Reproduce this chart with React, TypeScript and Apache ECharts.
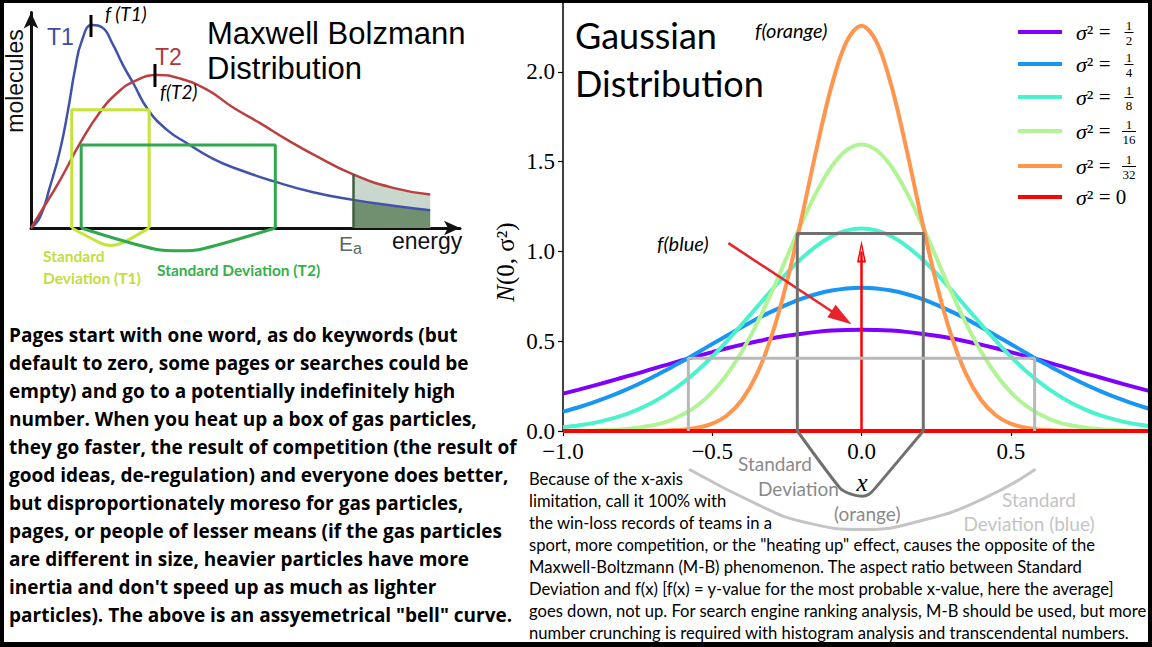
import React, { useEffect, useRef } from "react";
import * as echarts from "echarts";

// ---------- Maxwell–Boltzmann panel (energy along x, molecule count along y) ----------
const mbEnergyT1 = [0, 0.25, 0.52, 0.8, 1.02, 1.21, 1.4, 1.68, 1.95, 2.23, 2.53, 2.81, 3.22, 3.74, 4.29, 5.01, 5.75, 6.66, 7.76, 8.86, 9.96, 10.98];
const mbCountT1 = [0, 0.49, 1.84, 3.5, 5.3, 7.1, 8.4, 9.1, 9.0, 8.3, 7.3, 6.5, 5.3, 4.4, 3.8, 3.1, 2.6, 2.1, 1.6, 1.26, 1.0, 0.8];
const mbEnergyT2 = [0, 0.25, 0.8, 1.35, 1.9, 2.37, 2.81, 3.47, 4.1, 4.84, 5.56, 6.3, 7.05, 7.76, 8.86, 9.96, 10.98];
const mbCountT2 = [0, 0.67, 2.15, 3.8, 5.2, 6.05, 6.55, 6.86, 6.7, 6.2, 5.4, 4.7, 3.95, 3.3, 2.4, 1.8, 1.5];
const activationEnergy = 8.86;
const activationCount = 2.4;

const t1BoxEnergy = [1.12, 1.12, 3.25, 3.25];
const t1BoxCount = [0, 5.3, 5.3, 0];
const t1BraceEnergy = [1.12, 1.95, 2.2, 2.5, 3.25];
const t1BraceCount = [0, -0.7, -0.78, -0.68, 0];
const t2BoxEnergy = [1.38, 1.38, 6.72, 6.72];
const t2BoxCount = [0, 3.72, 3.72, 0];
const t2BraceEnergy = [1.38, 3.46, 4.1, 4.65, 6.72];
const t2BraceCount = [0, -0.96, -1.02, -0.96, 0];
const t1PeakEnergy = 1.65;
const t1PeakMarker = [8.56, 9.55];
const t2PeakEnergy = 3.41;
const t2PeakMarker = [6.32, 7.35];

// ---------- Gaussian panel ----------
const gaussX = [-1, -0.95, -0.9, -0.85, -0.8, -0.75, -0.7, -0.65, -0.6, -0.55, -0.5, -0.45, -0.4, -0.35, -0.3, -0.25, -0.2, -0.15, -0.1, -0.05, 0, 0.05, 0.1, 0.15, 0.2, 0.25, 0.3, 0.35, 0.4, 0.45, 0.5, 0.55, 0.6, 0.65, 0.7, 0.75, 0.8, 0.85, 0.9, 0.95, 1];
const densityHalf = [0.208, 0.229, 0.251, 0.274, 0.298, 0.321, 0.346, 0.37, 0.394, 0.417, 0.439, 0.461, 0.481, 0.499, 0.516, 0.53, 0.542, 0.552, 0.559, 0.563, 0.564, 0.563, 0.559, 0.552, 0.542, 0.53, 0.516, 0.499, 0.481, 0.461, 0.439, 0.417, 0.394, 0.37, 0.346, 0.321, 0.298, 0.274, 0.251, 0.229, 0.208];
const densityQuarter = [0.108, 0.131, 0.158, 0.188, 0.222, 0.259, 0.299, 0.343, 0.388, 0.436, 0.484, 0.532, 0.579, 0.625, 0.666, 0.704, 0.737, 0.763, 0.782, 0.794, 0.798, 0.794, 0.782, 0.763, 0.737, 0.704, 0.666, 0.625, 0.579, 0.532, 0.484, 0.436, 0.388, 0.343, 0.299, 0.259, 0.222, 0.188, 0.158, 0.131, 0.108];
const densityEighth = [0.021, 0.031, 0.044, 0.063, 0.087, 0.119, 0.159, 0.208, 0.267, 0.336, 0.415, 0.502, 0.595, 0.691, 0.787, 0.879, 0.962, 1.031, 1.084, 1.117, 1.128, 1.117, 1.084, 1.031, 0.962, 0.879, 0.787, 0.691, 0.595, 0.502, 0.415, 0.336, 0.267, 0.208, 0.159, 0.119, 0.087, 0.063, 0.044, 0.031, 0.021];
const densitySixteenth = [0.001, 0.001, 0.002, 0.005, 0.01, 0.018, 0.032, 0.054, 0.09, 0.142, 0.216, 0.316, 0.444, 0.599, 0.777, 0.968, 1.159, 1.333, 1.473, 1.564, 1.596, 1.564, 1.473, 1.333, 1.159, 0.968, 0.777, 0.599, 0.444, 0.316, 0.216, 0.142, 0.09, 0.054, 0.032, 0.018, 0.01, 0.005, 0.002, 0.001, 0.001];
const densityThirtySecond = [0, 0, 0, 0, 0, 0, 0.001, 0.003, 0.007, 0.018, 0.041, 0.088, 0.174, 0.318, 0.535, 0.83, 1.19, 1.575, 1.923, 2.168, 2.257, 2.168, 1.923, 1.575, 1.19, 0.83, 0.535, 0.318, 0.174, 0.088, 0.041, 0.018, 0.007, 0.003, 0.001, 0, 0, 0, 0, 0, 0];
const densities = [densityHalf, densityQuarter, densityEighth, densitySixteenth, densityThirtySecond];
const varianceDenominators = ["2", "4", "8", "16", "32"];
const varianceColors = ["#8000ff", "#1996f3", "#4cf2ce", "#b2f396", "#ff964f"];
const zeroLineX = [-1, 1];
const zeroLineY = [0, 0];
const deltaSpikeHeight = 1.0;

const orangeSdX = [-0.215, -0.215, 0.207, 0.207];
const orangeSdY = [0, 1.1, 1.1, 0];
const orangeBraceX = [-0.215, -0.072, -0.035, 0.002, 0.025, 0.046, 0.207];
const orangeBraceY = [0, -0.318, -0.352, -0.363, -0.352, -0.318, 0];
const blueSdX = [-0.58, -0.58, 0.58, 0.58];
const blueSdY = [0, 0.405, 0.405, 0];
const blueBraceX = [-0.578, -0.332, -0.197, 0.003, 0.208, 0.41, 0.583];
const blueBraceY = [-0.213, -0.422, -0.505, -0.548, -0.496, -0.375, -0.213];
const fBlueArrowFrom = [-0.446, 1.046];
const fBlueArrowTo = [-0.067, 0.631];

const legendRowY = [32, 64, 97, 131, 166, 197];

const leftParagraph = [
  "Pages start with one word, as do keywords (but",
  "default to zero, some pages or searches could be",
  "empty) and go to a potentially indefinitely high",
  "number. When you heat up a box of gas particles,",
  "they go faster, the result of competition (the result of",
  "good ideas, de-regulation) and everyone does better,",
  "but disproportionately moreso for gas particles,",
  "pages, or people of lesser means (if the gas particles",
  "are different in size, heavier particles have more",
  "inertia and don't speed up as much as lighter",
  "particles). The above is an assyemetrical \"bell\" curve.",
];
const rightParagraph = [
  "Because of the x-axis",
  "limitation, call it 100% with",
  "the win-loss records of teams in a",
  "sport, more competition, or the \"heating up\" effect, causes the opposite of the",
  "Maxwell-Boltzmann (M-B) phenomenon. The aspect ratio between Standard",
  "Deviation and f(x) [f(x) = y-value for the most probable x-value, here the average]",
  "goes down, not up. For search engine ranking analysis, M-B should be used, but more",
  "number crunching is required with histogram analysis and transcendental numbers.",
];

const pairs = (xs: number[], ys: number[]) => xs.map((x, i) => [x, ys[i]]);

const HOLLOW_ARROW = "path://M5,0 L10,22 L0,22 Z M5,6 L2.2,20 L7.8,20 Z";
const SANS = "Lato";
const SERIF = "Liberation Serif";

function shape(name: string, grid: number, data: number[][], color: string, width: number, smooth: boolean | number = false) {
  return {
    type: "line",
    name,
    xAxisIndex: grid,
    yAxisIndex: grid,
    data,
    smooth,
    clip: false,
    showSymbol: false,
    symbol: "none",
    silent: true,
    z: 5,
    lineStyle: { color, width },
    itemStyle: { color },
  };
}

function text(x: number, y: number, str: string, style: any, extra: any = {}) {
  return {
    type: "text",
    x,
    y,
    z: 50,
    silent: true,
    style: { text: str, fill: "#000", verticalAlign: "middle", align: "left", ...style },
    ...extra,
  };
}

export default function App() {
  const ref = useRef<HTMLDivElement>(null);

  useEffect(() => {
    if (!ref.current) return;
    const chart = echarts.init(ref.current, undefined, { renderer: "svg" });

    const gaussNames = varianceDenominators.map((d) => `σ² = 1/${d}`);
    const zeroName = "σ² = 0";

    const series: any[] = [];

    // Maxwell–Boltzmann: shaded tail beyond the activation energy
    series.push({
      type: "line", name: "T2 tail", xAxisIndex: 0, yAxisIndex: 0, smooth: true, showSymbol: false, symbol: "none", silent: true,
      data: pairs(mbEnergyT2, mbCountT2).filter((p) => p[0] >= activationEnergy),
      lineStyle: { width: 0 }, areaStyle: { color: "#c9d7cd", opacity: 1 },
    });
    series.push({
      type: "line", name: "T1 tail", xAxisIndex: 0, yAxisIndex: 0, smooth: true, showSymbol: false, symbol: "none", silent: true,
      data: pairs(mbEnergyT1, mbCountT1).filter((p) => p[0] >= activationEnergy),
      lineStyle: { width: 0 }, areaStyle: { color: "#71906f", opacity: 1 },
    });
    series.push({
      type: "line", name: "T1", xAxisIndex: 0, yAxisIndex: 0, smooth: true, showSymbol: false, symbol: "none", silent: true,
      data: pairs(mbEnergyT1, mbCountT1), lineStyle: { color: "#4152ad", width: 2.5 }, itemStyle: { color: "#4152ad" },
    });
    series.push({
      type: "line", name: "T2", xAxisIndex: 0, yAxisIndex: 0, smooth: true, showSymbol: false, symbol: "none", silent: true,
      data: pairs(mbEnergyT2, mbCountT2), lineStyle: { color: "#b9403f", width: 2.5 }, itemStyle: { color: "#b9403f" },
      markLine: {
        silent: true, symbol: ["none", "none"], label: { show: false },
        lineStyle: { color: "#405f40", width: 2.5, type: "solid" },
        data: [[{ coord: [activationEnergy, 0] }, { coord: [activationEnergy, activationCount] }]],
      },
    });
    series.push(shape("T1 spread", 0, pairs(t1BoxEnergy, t1BoxCount), "#c5e43a", 3));
    series.push(shape("T1 spread brace", 0, pairs(t1BraceEnergy, t1BraceCount), "#c5e43a", 3, 0.3));
    series.push(shape("T2 spread", 0, pairs(t2BoxEnergy, t2BoxCount), "#2fa84e", 3));
    series.push(shape("T2 spread brace", 0, pairs(t2BraceEnergy, t2BraceCount), "#2fa84e", 3, 0.3));
    series.push(shape("T1 peak", 0, [[t1PeakEnergy, t1PeakMarker[0]], [t1PeakEnergy, t1PeakMarker[1]]], "#000", 3));
    series.push(shape("T2 peak", 0, [[t2PeakEnergy, t2PeakMarker[0]], [t2PeakEnergy, t2PeakMarker[1]]], "#000", 3));

    // Gaussian family
    densities.forEach((d, i) => {
      series.push({
        type: "line", name: gaussNames[i], xAxisIndex: 1, yAxisIndex: 1, smooth: 0.35, showSymbol: false, symbol: "none", silent: true,
        data: pairs(gaussX, d), lineStyle: { color: varianceColors[i], width: 4 }, itemStyle: { color: varianceColors[i] }, z: 2,
      });
    });
    series.push({
      type: "line", name: zeroName, xAxisIndex: 1, yAxisIndex: 1, showSymbol: false, symbol: "none", silent: true, z: 3,
      data: pairs(zeroLineX, zeroLineY), lineStyle: { color: "#ff0000", width: 4 }, itemStyle: { color: "#ff0000" },
      markLine: {
        silent: true, label: { show: false }, symbol: ["none", "none"],
        lineStyle: { color: "#ff0000", width: 2.5, type: "solid" },
        data: [
          [{ coord: [0, 0], symbol: "none" }, { coord: [0, deltaSpikeHeight], symbol: HOLLOW_ARROW, symbolSize: [9, 22] }],
          [
            { coord: fBlueArrowFrom, symbol: "none", lineStyle: { color: "#e8232b", width: 2.5 } },
            { coord: fBlueArrowTo, symbol: "triangle", symbolSize: [15, 24] },
          ],
        ],
      },
    });
    series.push(shape("orange spread", 1, pairs(orangeSdX, orangeSdY), "#707070", 3));
    series.push(shape("orange spread brace", 1, pairs(orangeBraceX, orangeBraceY), "#707070", 3, 0.2));
    series.push(shape("blue spread", 1, pairs(blueSdX, blueSdY), "#b8b8b8", 3));
    series.push(shape("blue spread brace", 1, pairs(blueBraceX, blueBraceY), "#c4c4c4", 3, true));

    const legendNames = [...gaussNames, zeroName];
    const legends = legendNames.map((name, i) => ({
      data: [name],
      left: 1018,
      top: legendRowY[i] - 11,
      padding: 0,
      icon: "rect",
      itemWidth: 44,
      itemHeight: 4,
      selectedMode: false,
      formatter: () => (i < 5 ? "{p|}{s|σ}{q|²}{e| =}" : "{p|}{s|σ}{q|²}{e| = 0}"),
      textStyle: {
        fontFamily: SERIF, fontSize: 21, color: "#000", lineHeight: 22,
        rich: {
          p: { width: 9 },
          s: { fontFamily: SERIF, fontSize: 22, fontStyle: "italic", lineHeight: 22 },
          q: { fontFamily: SERIF, fontSize: 22, lineHeight: 22 },
          e: { fontFamily: SERIF, fontSize: 21, lineHeight: 22 },
        },
      },
    }));

    const graphic: any[] = [];
    // legend fractions
    varianceDenominators.forEach((den, i) => {
      const cy = legendRowY[i];
      const cx = 1129;
      const half = den.length > 1 ? 7 : 4.5;
      graphic.push(text(cx, cy - 7, "1", { fontFamily: SERIF, fontSize: 13, align: "center" }));
      graphic.push({ type: "line", z: 50, silent: true, shape: { x1: cx - half, y1: cy + 0.5, x2: cx + half, y2: cy + 0.5 }, style: { stroke: "#000", lineWidth: 1 } });
      graphic.push(text(cx, cy + 8, den, { fontFamily: SERIF, fontSize: 13, align: "center" }));
    });

    // Maxwell–Boltzmann labels
    graphic.push(text(15, 81, "molecules", { fontFamily: "Liberation Sans", fontSize: 23, align: "center", fill: "#111" }, { rotation: Math.PI / 2 }));
    graphic.push(text(392, 241, "energy", { fontFamily: "Liberation Sans", fontSize: 23, fill: "#111" }));
    graphic.push(text(339, 243, "E", { fontFamily: "Liberation Sans", fontSize: 21, fill: "#5b6b5b" }));
    graphic.push(text(353, 248, "a", { fontFamily: "Liberation Sans", fontSize: 16, fill: "#5b6b5b" }));
    graphic.push(text(47, 37, "T1", { fontFamily: "Liberation Sans", fontSize: 23, fill: "#3d4da0" }));
    graphic.push(text(155, 57, "T2", { fontFamily: "Liberation Sans", fontSize: 23, fill: "#b0383c" }));
    graphic.push(text(207, 50.5, "Maxwell Bolzmann\nDistribution", { fontFamily: "Liberation Sans", fontSize: 31, lineHeight: 35 }));
    graphic.push(text(105, 13, "f (T1)", { fontFamily: SANS, fontStyle: "italic", fontSize: 19 }));
    graphic.push(text(160, 91, "f(T2)", { fontFamily: SANS, fontStyle: "italic", fontSize: 19 }));
    graphic.push(text(43, 267, "Standard\nDeviation (T1)", { fontFamily: SANS, fontWeight: "bold", fontSize: 15.5, lineHeight: 22, fill: "#c2de3c" }));
    graphic.push(text(157, 270, "Standard Deviation (T2)", { fontFamily: SANS, fontWeight: "bold", fontSize: 15.5, fill: "#34b04c" }));

    // Gaussian labels
    graphic.push(text(575, 59, "Gaussian\nDistribution", { fontFamily: SANS, fontSize: 36, lineHeight: 48 }));
    graphic.push(text(755, 30, "f(orange)", { fontFamily: SANS, fontStyle: "italic", fontSize: 20 }));
    graphic.push(text(657, 243, "f(blue)", { fontFamily: SANS, fontStyle: "italic", fontSize: 20 }));
    graphic.push(text(505, 262, "{n|N}(0, σ²)", {
      fontFamily: SERIF, fontSize: 25, align: "center",
      rich: { n: { fontFamily: SERIF, fontSize: 25, fontStyle: "italic" } },
    }, { rotation: Math.PI / 2 }));
    graphic.push(text(862, 482, "x", { fontFamily: SERIF, fontStyle: "italic", fontSize: 25, align: "center" }));
    graphic.push(text(738, 463, "Standard", { fontFamily: SANS, fontSize: 19, fill: "#8a8a8a" }));
    graphic.push(text(758, 488, "Deviation", { fontFamily: SANS, fontSize: 19, fill: "#8a8a8a" }));
    graphic.push(text(834, 513, "(orange)", { fontFamily: SANS, fontSize: 19, fill: "#8a8a8a" }));
    graphic.push(text(1039, 499, "Standard", { fontFamily: SANS, fontSize: 19, fill: "#c4c4c4", align: "center" }));
    graphic.push(text(1029, 523, "Deviation (blue)", { fontFamily: SANS, fontSize: 19, fill: "#c4c4c4", align: "center" }));

    // paragraphs
    graphic.push(text(9, 335 + 14 * (leftParagraph.length - 1), leftParagraph.join("\n"), { fontFamily: "Open Sans", fontWeight: "bold", fontSize: 19, lineHeight: 28 }));
    graphic.push(text(529, 479 + 11 * (rightParagraph.length - 1), rightParagraph.join("\n"), { fontFamily: SANS, fontSize: 16.6, lineHeight: 22 }));

    // black frame
    [[0, 0, 1162, 3], [0, 0, 4, 647], [0, 642, 1162, 5], [1148, 0, 14, 647]].forEach(([x, y, w, h]) => {
      graphic.push({ type: "rect", z: 100, silent: true, shape: { x, y, width: w, height: h }, style: { fill: "#000" } });
    });

    const hidden = { show: false };
    chart.setOption({
      animation: false,
      backgroundColor: "#fff",
      grid: [
        { left: 31, top: 12.5, width: 429, height: 215.5, outerBoundsMode: "none", containLabel: false },
        { left: 563, top: 0, width: 597, height: 431, outerBoundsMode: "none", containLabel: false },
      ],
      xAxis: [
        {
          gridIndex: 0, type: "value", min: 0, max: 11.8,
          axisLine: { show: true, symbol: ["none", "arrow"], symbolSize: [11, 16], lineStyle: { color: "#111", width: 3 } },
          axisTick: hidden, axisLabel: hidden, splitLine: hidden,
        },
        {
          gridIndex: 1, type: "value", min: -1, max: 1, interval: 0.5,
          axisLine: { show: true, onZero: false, lineStyle: { color: "#000", width: 1.5 } },
          axisTick: { show: true, length: 5, lineStyle: { color: "#000", width: 1.2 } },
          axisLabel: {
            show: true, margin: 9, color: "#000", fontFamily: SERIF, fontSize: 23,
            formatter: (v: number) => (v < 0 ? "−" : "") + Math.abs(v).toFixed(1),
          },
          splitLine: hidden,
        },
      ],
      yAxis: [
        {
          gridIndex: 0, type: "value", min: 0, max: 9.66,
          axisLine: { show: true, symbol: ["none", "arrow"], symbolSize: [11, 16], lineStyle: { color: "#111", width: 3 } },
          axisTick: hidden, axisLabel: hidden, splitLine: hidden,
        },
        {
          gridIndex: 1, type: "value", min: 0, max: 2.4, interval: 0.5,
          axisLine: { show: true, onZero: false, lineStyle: { color: "#000", width: 1.5 } },
          axisTick: { show: true, length: 5, lineStyle: { color: "#000", width: 1.2 } },
          axisLabel: {
            show: true, margin: 8, color: "#000", fontFamily: SERIF, fontSize: 23,
            formatter: (v: number) => (Math.abs(v * 2 - Math.round(v * 2)) < 1e-6 ? v.toFixed(1) : ""),
          },
          splitLine: hidden,
        },
      ],
      legend: legends,
      series,
      graphic,
    });

    return () => chart.dispose();
  }, []);

  return (
    <div style={{ position: "fixed", left: 0, top: 0, width: 1152, height: 647, overflow: "hidden", background: "#fff" }}>
      <div ref={ref} style={{ width: 1162, height: 647 }} />
    </div>
  );
}
